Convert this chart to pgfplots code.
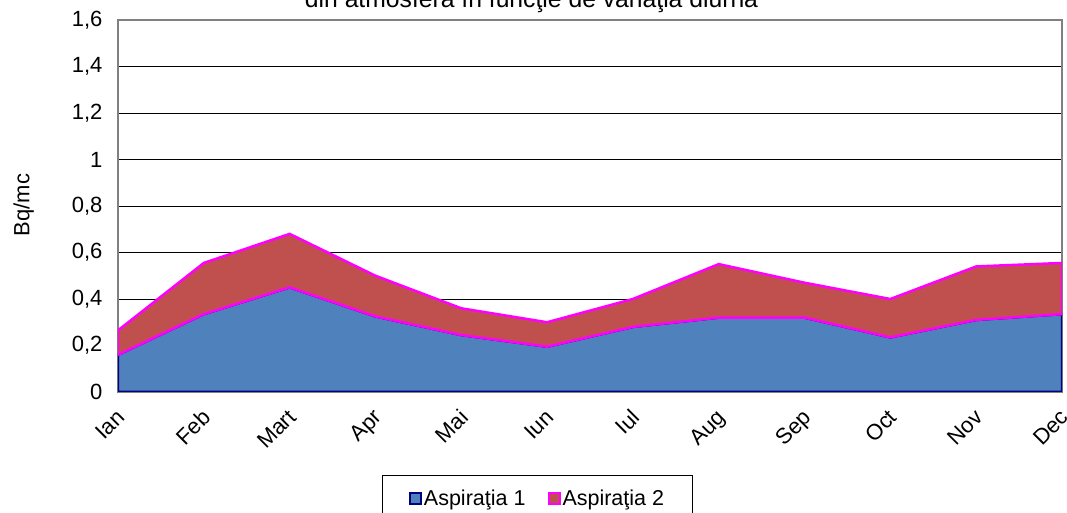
\documentclass[border=0pt]{standalone}
\usepackage{pgfplots}
\pgfplotsset{compat=1.18}
\usepackage{fontspec}
\setmainfont{Liberation Sans}
\definecolor{serA}{HTML}{4F81BD}
\definecolor{serB}{HTML}{C0504D}
\definecolor{navyb}{HTML}{000080}
\definecolor{magb}{HTML}{FF00FF}
\begin{document}
\begin{tikzpicture}
\begin{axis}[
 at={(0pt,0pt)}, anchor=south west,
 scale only axis, width=944pt, height=372pt,
 xmin=0, xmax=11, ymin=0, ymax=1.6,
 xtick={0,...,11},
 xticklabels={Ian,Feb,Mart,Apr,Mai,Iun,Iul,Aug,Sep,Oct,Nov,Dec},
 x tick label style={font=\fontsize{22}{26}\selectfont, xshift=-3pt, yshift=-11pt, rotate=45, anchor=north east},
 ytick={0,0.2,0.4,0.6,0.8,1,1.2,1.4,1.6},
 /pgf/number format/use comma,
 /pgf/number format/assume math mode=true,
 y tick label style={font=\fontsize{22}{26}\selectfont, xshift=-12pt},
 ymajorgrids, major grid style={black, line width=0.9pt},
 axis line style={draw=gray, line width=2pt},
 major tick length=0pt, tick style={draw=none},
 xtick pos=bottom, ytick pos=left,
 ylabel={Bq/mc},
 ylabel style={at={(axis description cs:-0.1,0.503)}, anchor=center, font=\fontsize{22}{26}\selectfont},
 legend style={at={(axis description cs:0.4444,-0.223)}, anchor=north, legend columns=2,
   draw=black, line width=0.9pt, font=\fontsize{21.5}{25}\selectfont,
   inner xsep=26pt, inner ysep=13pt,
   /tikz/every even column/.append style={column sep=20pt}},
 legend image code/.code={\draw[#1, line width=2pt] (0pt,-5.5pt) rectangle (11pt,5.5pt);},
]
% Aspiratia 1
\addplot[fill=serA, draw=navyb, line width=2.5pt] coordinates {
 (0,0.16) (1,0.335) (2,0.45) (3,0.325) (4,0.245) (5,0.195) (6,0.28) (7,0.32) (8,0.32) (9,0.235) (10,0.31) (11,0.335)
} \closedcycle;
\addlegendentry{Aspiraţia 1}
% Aspiratia 2 stacked on Aspiratia 1: top = total, bottom = Aspiratia 1
\addplot[fill=serB, draw=magb, line width=2.5pt] coordinates {
 (0,0.265) (1,0.555) (2,0.68) (3,0.50) (4,0.36) (5,0.30) (6,0.40) (7,0.55) (8,0.47) (9,0.40) (10,0.54) (11,0.555)
 (11,0.335) (10,0.31) (9,0.235) (8,0.32) (7,0.32) (6,0.28) (5,0.195) (4,0.245) (3,0.325) (2,0.45) (1,0.335) (0,0.16)
} -- cycle;
\addlegendentry{Aspiraţia 2}
\end{axis}
\node[anchor=base, font=\fontsize{24.7}{28}\selectfont] at (413.5pt,384.5pt) {din atmosfera în funcţie de variaţia diurna};
\pgfresetboundingbox
\useasboundingbox (-118pt,-121pt) rectangle (949pt,392pt);
\end{tikzpicture}
\end{document}
